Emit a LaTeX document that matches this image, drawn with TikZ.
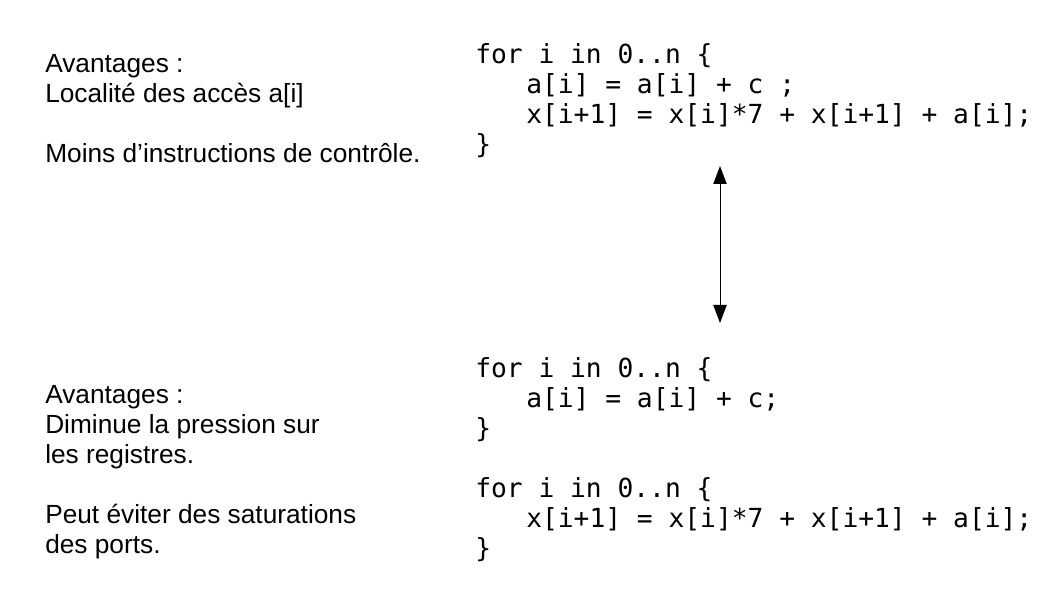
\documentclass[tikz,border=0pt]{standalone}
\usepackage{fontspec}
\setmainfont{Liberation Sans}
\setmonofont{DejaVu Sans Mono}
\usetikzlibrary{arrows.meta}

\begin{document}
\begin{tikzpicture}[x=0.75pt,y=-0.75pt,
    txt/.style={anchor=base west,align=left,inner sep=0pt,
      font=\fontsize{19.7}{22.5}\selectfont},
    code/.style={txt,font=\fontsize{19.7}{22.5}\selectfont\ttfamily},
    tip/.style={line width=0.75pt,{Triangle[width=10pt,length=13.5pt]}-{Triangle[width=10pt,length=13.5pt]}}]
    \useasboundingbox (0,0) rectangle (1049,605);

    % fused loop (anchored on its last line)
    \node (fused) [code] at (475,154) {for i in 0..n \{\\
      \hspace*{38.25pt}a[i] = a[i] + c ;\\
      \hspace*{38.25pt}x[i+1] = x[i]*7 + x[i+1] + a[i];\\
      \}};
    \node (fusedpro) [txt] at (45,163) {Avantages :\\
      Localit\'e des acc\`es a[i]\\[22.5pt]
      Moins d'instructions de contr\^ole.};

    % split loops
    \node (split) [code] at (475,557) {for i in 0..n \{\\
      \hspace*{38.25pt}a[i] = a[i] + c;\\
      \}\\[22.5pt]
      for i in 0..n \{\\
      \hspace*{38.25pt}x[i+1] = x[i]*7 + x[i+1] + a[i];\\
      \}};
    \node (splitpro) [txt] at (45,553) {Avantages :\\
      Diminue la pression sur\\
      les registres.\\[22.5pt]
      Peut \'eviter des saturations\\
      des ports.};

    \coordinate (up) at (720,166);
    \coordinate (down) at (720,323);
    \draw[tip] (up) -- (down);
\end{tikzpicture}
\end{document}
